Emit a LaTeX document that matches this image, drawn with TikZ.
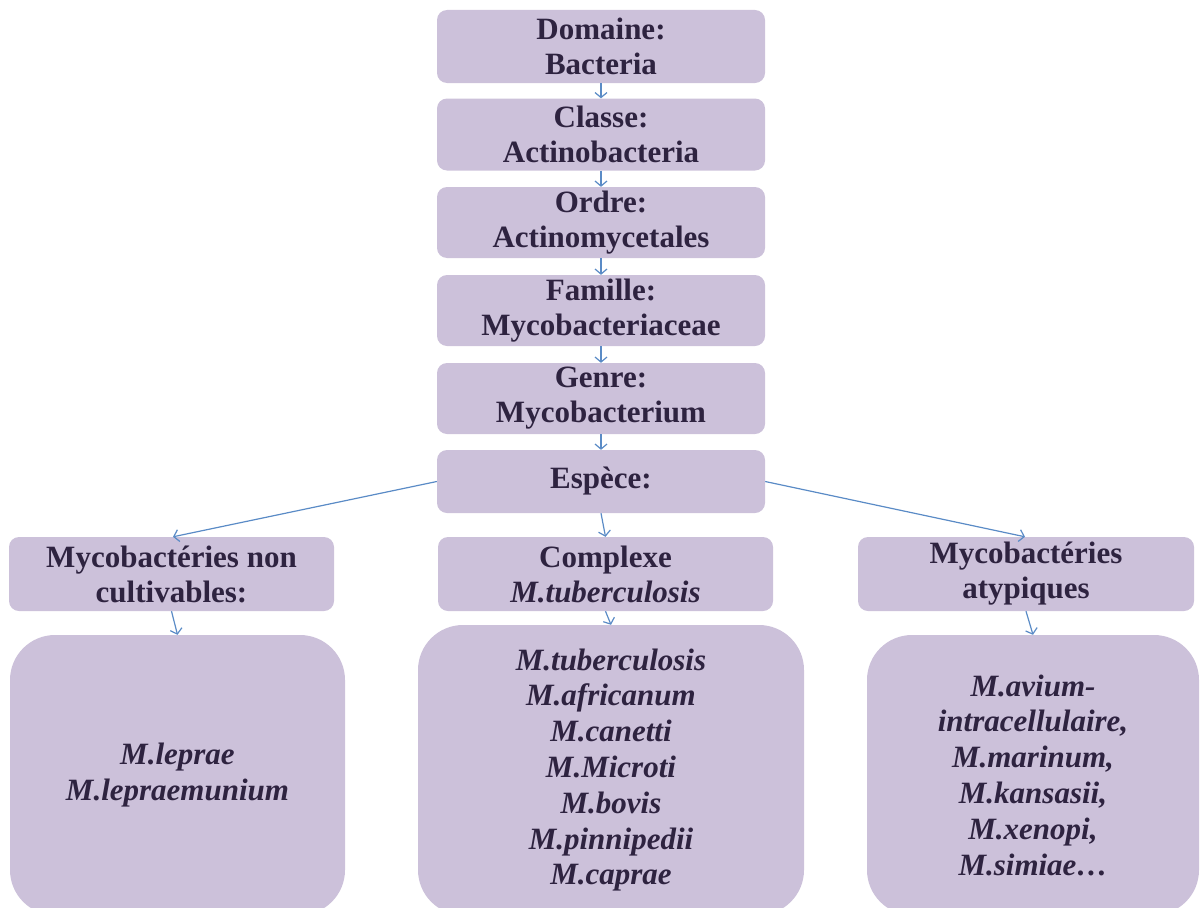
\documentclass[tikz,border=0pt]{standalone}
\usepackage{fontspec}
\setmainfont{Liberation Serif}
\usetikzlibrary{arrows.meta}
\definecolor{boxfill}{HTML}{CCC1DA}
\definecolor{boxtext}{HTML}{2E2340}
\definecolor{arr}{HTML}{5A8BC6}
\begin{document}
\begin{tikzpicture}[x=1pt,y=-1pt,
  box/.style={fill=boxfill, draw=none, rounded corners=10pt, inner sep=0pt, align=center,
    text=boxtext, font=\fontsize{31}{35}\selectfont\bfseries},
  bigbox/.style={box, rounded corners=45pt, font=\fontsize{31}{35.8}\selectfont\bfseries\itshape},
  link/.style={draw=arr, line width=1.2pt, -{Straight Barb[length=5pt,width=12pt]}}]
\useasboundingbox (0,0) rectangle (1201,907);
\clip (0,0) rectangle (1201,907);
% taxonomy chain
\node[box, minimum width=328pt, minimum height=73pt] (d1) at (601,46.5) {Domaine:\\Bacteria};
\node[box, minimum width=328pt, minimum height=72pt] (d2) at (601,134.5) {Classe:\\Actinobacteria};
\node[box, minimum width=328pt, minimum height=71pt] (d3) at (601,222.5) {Ordre:\\Actinomycetales};
\node[box, minimum width=328pt, minimum height=71pt] (d4) at (601,310.5) {Famille:\\Mycobacteriaceae};
\node[box, minimum width=328pt, minimum height=71pt] (d5) at (601,398.5) {Genre:\\Mycobacterium};
\node[box, minimum width=328pt, minimum height=63pt] (d6) at (601,481.5) {Espèce:};
% second level
\node[box, minimum width=325pt, minimum height=74pt] (l2a) at (171.5,574) {Mycobactéries non\\cultivables:};
\node[box, minimum width=335pt, minimum height=74pt] (l2b) at (605.5,574) {Complexe\\\textit{M.tuberculosis}};
\node[box, minimum width=336pt, minimum height=74pt] (l2c) at (1026,574) {Mycobactéries\\atypiques};
% third level
\node[bigbox, minimum width=335pt, minimum height=280pt] (l3a) at (177.5,775) {M.leprae\\M.lepraemunium};
\node[bigbox, minimum width=386pt, minimum height=290pt] (l3b) at (611,770) {M.tuberculosis\\M.africanum\\M.canetti\\M.Microti\\M.bovis\\M.pinnipedii\\M.caprae};
\node[bigbox, minimum width=332pt, minimum height=280pt] (l3c) at (1033,775) {M.avium-\\intracellulaire,\\M.marinum,\\M.kansasii,\\M.xenopi,\\M.simiae\ldots};
% connectors
\draw[link] (d1.south) -- (d2.north);
\draw[link] (d2.south) -- (d3.north);
\draw[link] (d3.south) -- (d4.north);
\draw[link] (d4.south) -- (d5.north);
\draw[link] (d5.south) -- (d6.north);
\draw[link] (d6.west) -- ([xshift=1.5pt]l2a.north);
\draw[link] (d6.south) -- (l2b.north);
\draw[link] (d6.east) -- ([xshift=-1pt]l2c.north);
\draw[link] (l2a.south) -- (l3a.north);
\draw[link] (l2b.south) -- (l3b.north);
\draw[link] (l2c.south) -- (l3c.north);
\end{tikzpicture}
\end{document}
